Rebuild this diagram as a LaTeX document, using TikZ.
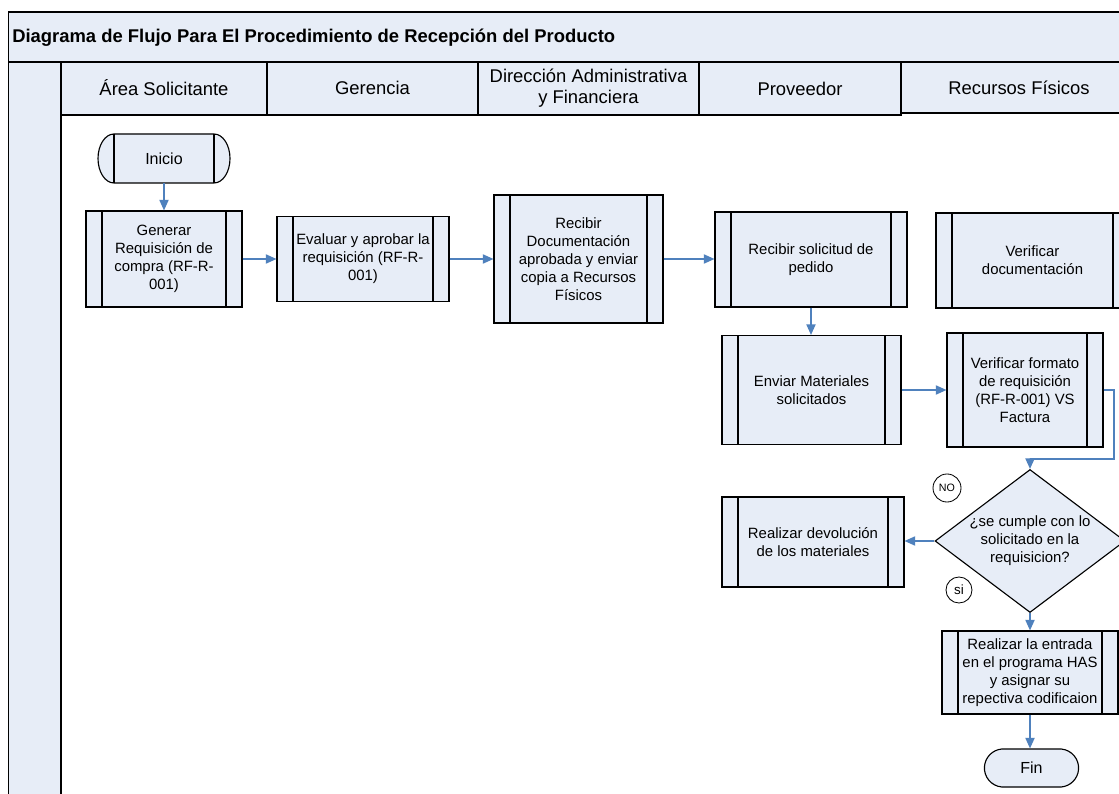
\documentclass[tikz,border=0pt]{standalone}
\usepackage{fontspec}
\setmainfont{Liberation Sans}
\usetikzlibrary{arrows.meta,shapes.geometric,shapes.misc}

\definecolor{boxfill}{RGB}{231,237,247}
\definecolor{flowblue}{RGB}{79,129,189}

\newcommand{\boxfont}{\fontsize{10.6}{12.7}\selectfont}
\newcommand{\termfont}{\fontsize{11.4}{13}\selectfont}
\newcommand{\headfont}{\fontsize{13.1}{15.4}\selectfont}

\tikzset{
  bw/.style={minimum width=#1*0.025cm},
  bh/.style={minimum height=#1*0.025cm},
  frameline/.style={draw=black, line width=1pt},
  lanehead/.style={draw=black, line width=0.9pt, fill=boxfill},
  outline/.style={draw=black, line width=0.8pt},
  innerbars/.style={path picture={
      \draw[line width=0.8pt]
        ([xshift=0.4cm]path picture bounding box.north west) --
        ([xshift=0.4cm]path picture bounding box.south west);
      \draw[line width=0.8pt]
        ([xshift=-0.4cm]path picture bounding box.north east) --
        ([xshift=-0.4cm]path picture bounding box.south east);}},
  procbox/.style={outline, fill=boxfill, align=center,
    inner sep=1pt, font=\boxfont, innerbars},
  termbox/.style={rounded rectangle, outline, fill=boxfill,
    align=center, inner sep=1pt, font=\termfont},
  decbox/.style={diamond, aspect=1.33, outline, fill=boxfill,
    align=center, inner sep=0pt, font=\boxfont},
  tagcircle/.style={circle, draw=black, line width=0.6pt, fill=white, inner sep=0pt},
  flow/.style={draw=flowblue, line width=1pt,
    -{Triangle[length=7.5pt,width=6.5pt]}},
}

\begin{document}
\begin{tikzpicture}[x=0.025cm, y=-0.025cm]
  \useasboundingbox (0,0) rectangle (1119,794);
  \clip (0,0) rectangle (1119,794);

  % title band and pool frame
  \fill[white] (0,0) rectangle (1119,794);
  \path[frameline, fill=boxfill] (8.7,12) rectangle (1135,62);
  \node[anchor=west, font=\bfseries\headfont, inner sep=0pt] (title) at (12,38)
    {Diagrama de Flujo Para El Procedimiento de Recepción del Producto};
  \path[frameline, fill=boxfill] (8.7,62) rectangle (61,800);
  \draw[frameline] (61,115) -- (61,800);

  % lane headers
  \path[lanehead] (61,62) rectangle (267,115);
  \path[lanehead] (267,62) rectangle (478,115);
  \path[lanehead] (478,62) rectangle (699,115);
  \path[lanehead] (699,62) rectangle (901,115);
  \path[lanehead] (901,62) rectangle (1135,113);
  \node[font=\headfont] (laneA) at (164,88) {Área Solicitante};
  \node[font=\headfont] (laneB) at (372.5,88) {Gerencia};
  \node[font=\headfont, align=center] (laneC) at (588.5,88)
    {Dirección Administrativa\\y Financiera};
  \node[font=\headfont] (laneD) at (800,89) {Proveedor};
  \node[font=\headfont] (laneE) at (1019,88) {Recursos Físicos};

  % start terminator: flat-capped ellipse ends with inner bars
  \path[outline, fill=boxfill] (114,134) -- (214,134)
    arc[start angle=-90, end angle=90, x radius=16, y radius=24.5]
    -- (114,183)
    arc[start angle=90, end angle=270, x radius=16, y radius=24.5] -- cycle;
  \draw[outline] (114,134) -- (114,183);
  \draw[outline] (214,134) -- (214,183);
  \node[bw=131, bh=49, inner sep=1pt, font=\termfont] (inicio) at (164,158.5) {Inicio};

  % process steps
  \node[procbox, bw=156, bh=96] (gen) at (164,259)
    {Generar\\Requisición de\\compra (RF-R-\\001)};
  \node[procbox, bw=172, bh=85] (eval) at (363,259)
    {Evaluar y aprobar la\\requisición (RF-R-\\001)};
  \node[procbox, bw=169, bh=128] (recdoc) at (578.5,259)
    {Recibir\\Documentación\\aprobada y enviar\\copia a Recursos\\Físicos};
  \node[procbox, bw=192, bh=95] (recsol) at (811,259.5)
    {Recibir solicitud de\\pedido};
  \node[procbox, bw=193, bh=95] (verdoc) at (1032.5,260.5)
    {Verificar\\documentación};
  \node[procbox, bw=179, bh=109] (enviar) at (811.5,390)
    {Enviar Materiales\\solicitados};
  \node[procbox, bw=156, bh=114] (verfor) at (1025,390)
    {Verificar formato\\de requisición\\(RF-R-001) VS\\Factura};
  \node[decbox, bw=190, bh=143] (dec) at (1030,541)
    {¿se cumple con lo\\solicitado en la\\requisicion?};
  \node[procbox, bw=182, bh=90] (devol) at (813,542)
    {Realizar devolución\\de los materiales};
  \node[procbox, bw=176, bh=83] (entrada) at (1030,672.5)
    {Realizar la entrada\\en el programa HAS\\y asignar su\\repectiva codificaion};
  \node[termbox, bw=97, bh=38, rounded rectangle arc length=170]
    (fin) at (1031.5,768) {Fin};

  % answer tags
  \node[tagcircle, minimum size=0.7cm, font=\fontsize{7.6}{8}\selectfont]
    (no) at (947,488) {NO};
  \node[tagcircle, minimum size=0.65cm, font=\fontsize{9.5}{10}\selectfont]
    (si) at (959,590) {si};

  % connectors
  \coordinate (loop) at (1114,459);
  \draw[flow] (inicio.south) -- (gen.north);
  \draw[flow] (gen.east) -- (gen.east -| eval.west);
  \draw[flow] (eval.east) -- (eval.east -| recdoc.west);
  \draw[flow] (recdoc.east) -- (recdoc.east -| recsol.west);
  \draw[flow] (recsol.south) -- (recsol.south |- enviar.north);
  \draw[flow] (enviar.east) -- (enviar.east -| verfor.west);
  \draw[flow] (verfor.east) -| (loop) -| (dec.north);
  \draw[flow] (dec.west) -- (dec.west -| devol.east);
  \draw[flow] (dec.south) -- (dec.south |- entrada.north);
  \draw[flow] (entrada.south) -- (entrada.south |- fin.north);
\end{tikzpicture}
\end{document}
